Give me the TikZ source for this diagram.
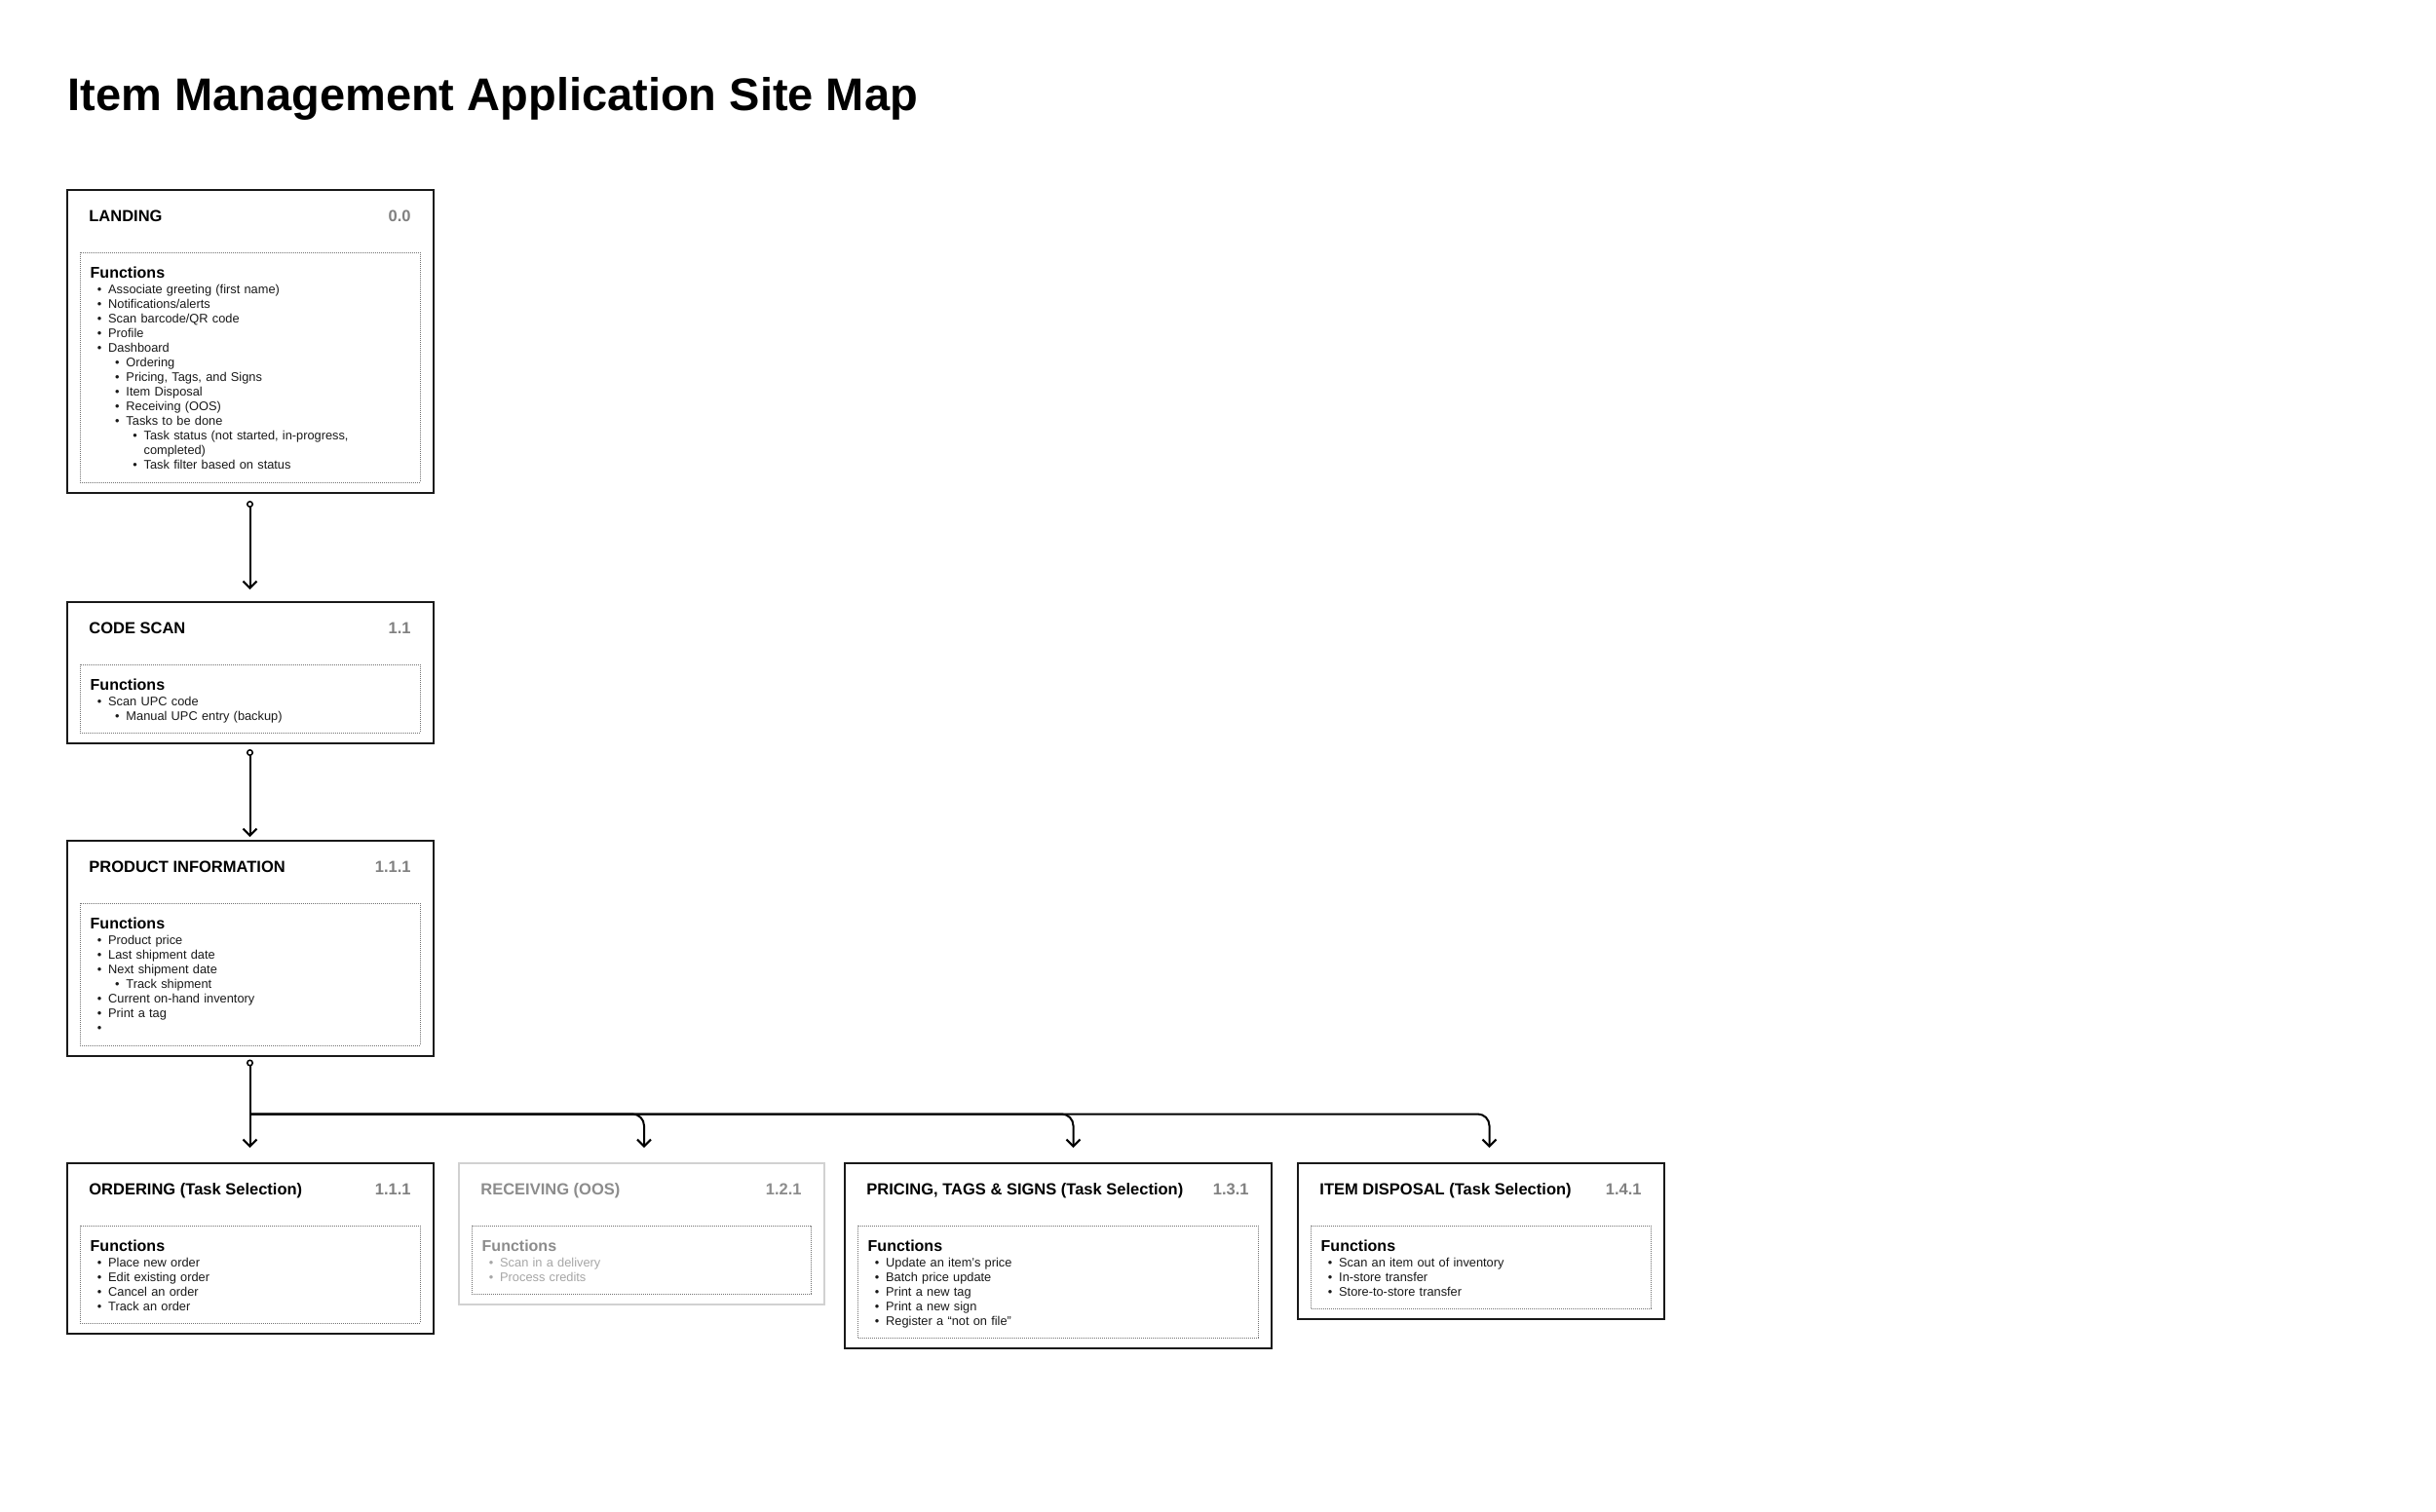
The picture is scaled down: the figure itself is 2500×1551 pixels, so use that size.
\documentclass[tikz,border=0pt]{standalone}
\usepackage{fontspec}
\setmainfont{Liberation Sans}
\usetikzlibrary{arrows.meta}
\usetikzlibrary{positioning}

\colorlet{boxink}{black!90}
\colorlet{titleink}{black}
\colorlet{numink}{black!50}
\colorlet{headink}{black}
\colorlet{listink}{black!90}

\tikzset{
  cardbox/.style={draw=boxink, line width=2pt, fill=white, minimum width=376pt,
    inner sep=0pt, outer sep=0pt},
  cardtitle/.style={font=\fontsize{16.5}{20}\selectfont\bfseries, text=titleink, inner sep=0pt},
  cardnum/.style={font=\fontsize{16.5}{20}\selectfont\bfseries, text=numink, inner sep=0pt},
  innerbox/.style={draw=black!55, line width=0.8pt, dash pattern=on 0.8pt off 1.2pt},
  funclist/.style={font=\fontsize{12.8}{15}\selectfont, text=listink, align=left,
    text width=320pt, inner sep=0pt},
  conn/.style={line width=2pt,
    {Circle[open,length=7pt,width=7pt,line width=1.5pt]}-{Straight Barb[length=7pt,width=14pt]}},
  branch/.style={line width=2pt, rounded corners=12pt, -{Straight Barb[length=7pt,width=14pt]}},
}

% bullet lines: text indent, text
\newcommand{\bul}[2]{\hspace*{\dimexpr#1-11.4pt\relax}\makebox[11.4pt][l]{\textbullet}#2}
\newcommand{\lone}[1]{\bul{18.5pt}{#1}}
\newcommand{\ltwo}[1]{\bul{36.8pt}{#1}}
\newcommand{\lthree}[1]{\bul{55pt}{#1}}
\newcommand{\lcont}[1]{\hspace*{55pt}#1}

% title, number, dotted box and list of a card
\newcommand{\cardparts}[4]{%
  \node[cardtitle, anchor=base west] (#1-title) at ([shift={(22.7pt,-32.5pt)}]#1.north west) {#2};
  \node[cardnum, anchor=base east] (#1-num) at ([shift={(-22.7pt,-32.5pt)}]#1.north east) {#3};
  \draw[innerbox] ([shift={(13.5pt,-64pt)}]#1.north west) coordinate (#1-in)
    rectangle ([shift={(-13.5pt,11pt)}]#1.south east);
  \node[funclist, anchor=north west] (#1-list) at ([shift={(10.5pt,-14.3pt)}]#1-in)
    {{\color{headink}\fontsize{16}{15}\selectfont\bfseries Functions}\\[1.7pt]#4};
}

\begin{document}
\begin{tikzpicture}[x=1pt,y=1pt]
  \useasboundingbox (0,0) rectangle (2500,-1551);
  \fill[white] (0,0) rectangle (2500,-1551);

  \node[anchor=base west, inner sep=0pt, font=\fontsize{47}{56}\selectfont\bfseries]
    (pagetitle) at (69.5,-113.3) {Item Management Application Site Map};

  % main column
  \node[cardbox, minimum height=311pt, anchor=north west] (landing) at (68.5,-195) {};
  \cardparts{landing}{LANDING}{0.0}{%
    \lone{Associate greeting (first name)}\\
    \lone{Notifications/alerts}\\
    \lone{Scan barcode/QR code}\\
    \lone{Profile}\\
    \lone{Dashboard}\\
    \ltwo{Ordering}\\
    \ltwo{Pricing, Tags, and Signs}\\
    \ltwo{Item Disposal}\\
    \ltwo{Receiving (OOS)}\\
    \ltwo{Tasks to be done}\\
    \lthree{Task status (not started, in-progress,}\\
    \lcont{completed)}\\
    \lthree{Task filter based on status}}

  \node[cardbox, minimum height=145pt, below=112pt of landing] (codescan) {};
  \cardparts{codescan}{CODE SCAN}{1.1}{%
    \lone{Scan UPC code}\\
    \ltwo{Manual UPC entry (backup)}}

  \node[cardbox, minimum height=221pt, below=100pt of codescan] (prodinfo) {};
  \cardparts{prodinfo}{PRODUCT INFORMATION}{1.1.1}{%
    \lone{Product price}\\
    \lone{Last shipment date}\\
    \lone{Next shipment date}\\
    \ltwo{Track shipment}\\
    \lone{Current on-hand inventory}\\
    \lone{Print a tag}\\
    \lone{}}

  % task row
  \node[cardbox, minimum height=175pt, below=110pt of prodinfo] (ordering) {};
  \cardparts{ordering}{ORDERING (Task Selection)}{1.1.1}{%
    \lone{Place new order}\\
    \lone{Edit existing order}\\
    \lone{Cancel an order}\\
    \lone{Track an order}}

  \begin{scope}
    \colorlet{boxink}{black!18}
    \colorlet{titleink}{black!45}
    \colorlet{numink}{black!45}
    \colorlet{headink}{black!45}
    \colorlet{listink}{black!35}
    \node[cardbox, minimum width=375pt, minimum height=145pt, anchor=north west]
      (receiving) at ([xshift=26pt]ordering.north east) {};
    \cardparts{receiving}{RECEIVING (OOS)}{1.2.1}{%
      \lone{Scan in a delivery}\\
      \lone{Process credits}}
  \end{scope}

  \node[cardbox, minimum width=438pt, minimum height=190pt, anchor=north west]
    (pricing) at ([xshift=21pt]receiving.north east) {};
  \cardparts{pricing}{PRICING, TAGS \& SIGNS (Task Selection)}{1.3.1}{%
    \lone{Update an item’s price}\\
    \lone{Batch price update}\\
    \lone{Print a new tag}\\
    \lone{Print a new sign}\\
    \lone{Register a “not on file”}}

  \node[cardbox, minimum height=160pt, anchor=north west]
    (disposal) at ([xshift=27pt]pricing.north east) {};
  \cardparts{disposal}{ITEM DISPOSAL (Task Selection)}{1.4.1}{%
    \lone{Scan an item out of inventory}\\
    \lone{In-store transfer}\\
    \lone{Store-to-store transfer}}

  % connectors
  \draw[conn, shorten <=8pt, shorten >=13pt] (landing) -- (codescan);
  \draw[conn, shorten <=6pt, shorten >=4pt] (codescan) -- (prodinfo);
  \draw[conn, shorten <=3.5pt, shorten >=16pt] (prodinfo) -- (ordering);

  \coordinate (junction) at ([yshift=-59.5pt]prodinfo.south);
  \draw[branch, shorten >=16pt] (junction) -| ([xshift=3pt]receiving.north);
  \draw[branch, shorten >=16pt] (junction) -| ([xshift=16pt]pricing.north);
  \draw[branch, shorten >=16pt] (junction) -| ([xshift=9pt]disposal.north);

\end{tikzpicture}
\end{document}
